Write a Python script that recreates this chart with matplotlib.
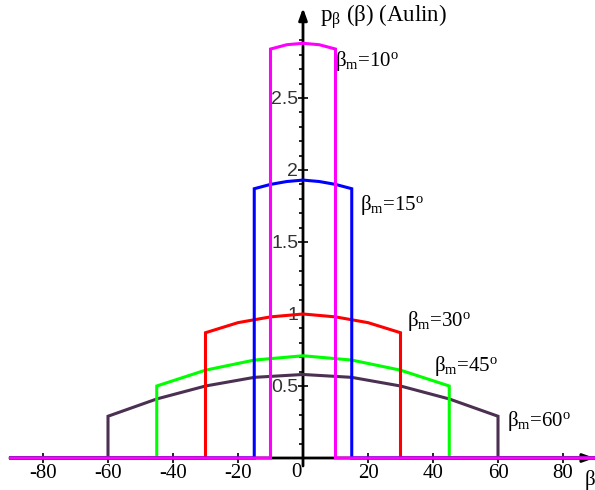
import matplotlib
matplotlib.use("Agg")
import matplotlib.pyplot as plt
import numpy as np

plt.rcParams['mathtext.fontset'] = 'custom'
plt.rcParams['mathtext.rm'] = 'Liberation Serif'
plt.rcParams['mathtext.it'] = 'Liberation Serif:italic'

# ---- data ----
beta_m_labels = ["10", "15", "30", "45", "60"]
colors = ["#FF00FF", "#0000FF", "#FF0000", "#00FF00", "#4B3052"]

beta_10 = [-10, -5, 0, 5, 10]
p_10 = [2.84, 2.87, 2.88, 2.87, 2.84]

beta_15 = [-15, -10, -5, 0, 5, 10, 15]
p_15 = [1.87, 1.90, 1.92, 1.93, 1.92, 1.90, 1.87]

beta_30 = [-30, -20, -10, 0, 10, 20, 30]
p_30 = [0.87, 0.94, 0.98, 1.00, 0.98, 0.94, 0.87]

beta_45 = [-45, -30, -15, 0, 15, 30, 45]
p_45 = [0.50, 0.61, 0.68, 0.71, 0.68, 0.61, 0.50]

beta_60 = [-60, -45, -30, -15, 0, 15, 30, 45, 60]
p_60 = [0.29, 0.41, 0.50, 0.56, 0.58, 0.56, 0.50, 0.41, 0.29]

x_range = [-90, 90]
x_ticks = [-80, -60, -40, -20, 20, 40, 60, 80]
y_ticks = [0.5, 1.0, 1.5, 2.0, 2.5]
y_tick_labels = ["0.5", "1", "1.5", "2", "2.5"]

label_pos = {"10": (9.9, 2.76), "15": (17.4, 1.76), "30": (32.0, 0.95),
             "45": (40.3, 0.64), "60": (62.8, 0.26)}

series = {"10": (beta_10, p_10), "15": (beta_15, p_15), "30": (beta_30, p_30),
          "45": (beta_45, p_45), "60": (beta_60, p_60)}

# ---- figure / pixel mapping ----
W, H = 595, 490
x0, sx = 303, 3.25
y0, sy = 458, 144.0

fig = plt.figure(figsize=(W / 100, H / 100), dpi=100)
ax = fig.add_axes([0, 0, 1, 1])
ax.set_xlim(-x0 / sx, (W - x0) / sx)
ax.set_ylim(-(H - y0) / sy, y0 / sy)

# curves: draw from widest to narrowest so magenta ends on top
for key, col in zip(reversed(beta_m_labels), reversed(colors)):
    b, p = series[key]
    xs = [x_range[0], b[0]] + list(b) + [b[-1], x_range[1]]
    ys = [0, 0] + list(p) + [0, 0]
    ax.plot(xs, ys, color=col, lw=2.2, solid_joinstyle='miter', zorder=3)

# axes lines with arrows
ax.annotate('', xy=((W - x0) / sx - 0.1, 0), xytext=((10 - x0) / sx, 0),
            arrowprops=dict(arrowstyle='-|>,head_length=0.7,head_width=0.25',
                            lw=2, color='black', shrinkA=0, shrinkB=0), zorder=2)
ax.annotate('', xy=(0, (y0 - 8) / sy), xytext=(0, -8 / sy),
            arrowprops=dict(arrowstyle='-|>,head_length=0.7,head_width=0.25',
                            lw=2, color='black', shrinkA=0, shrinkB=0), zorder=2)

for s in ax.spines.values():
    s.set_visible(False)
ax.spines['left'].set_position('zero')
ax.spines['bottom'].set_position('zero')

ax.set_xticks(x_ticks)
ax.set_xticklabels([str(v) for v in x_ticks], family='Liberation Serif', fontsize=15)
ax.tick_params(axis='x', direction='inout', length=7, width=1.2, pad=1, top=False)

ax.set_yticks(y_ticks)
ax.set_yticklabels(y_tick_labels, family='Liberation Sans', fontsize=14, color='#333333')
minor = [round(0.1 * i, 1) for i in range(1, 30) if i % 5 != 0]
ax.set_yticks(minor, minor=True)
ax.tick_params(axis='y', which='major', direction='inout', length=7, width=1.2, pad=0, right=False)
ax.tick_params(axis='y', which='minor', direction='out', length=3, width=1.2, right=False)

# "0" label on x axis
ax.text(-7 / sx, -5 / sy, "0", family='Liberation Serif', fontsize=15,
        ha='center', va='top')

# x axis name (at right edge)
ax.text((W - x0) / sx, -(480 - y0) / sy, "β", family='Liberation Serif', fontsize=15,
        ha='right', va='center')

# y axis title
ax.text((320 - x0) / sx, (y0 - 17) / sy, r'p$_\mathrm{β}$ (β) (Aulin)',
        family='Liberation Serif', fontsize=16.5, ha='left', va='center')

# curve labels
for key in beta_m_labels:
    x, y = label_pos[key]
    ax.text(x, y, r'β$_\mathrm{m}$=' + key + r'$^{\mathrm{o}}$', family='Liberation Serif',
            fontsize=15, ha='left', va='center')

fig.savefig("out.png", dpi=100)
